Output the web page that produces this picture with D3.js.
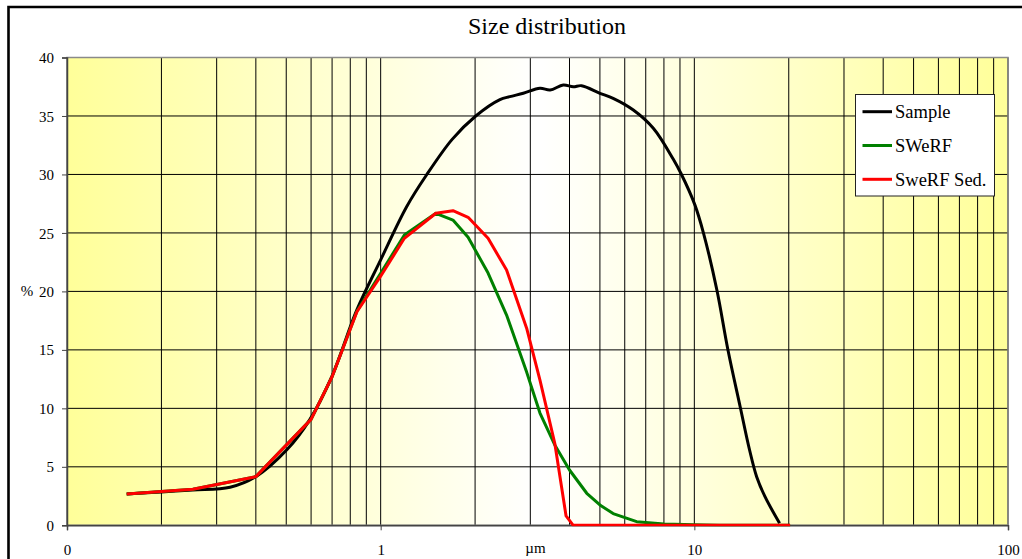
<!DOCTYPE html>
<html>
<head>
<meta charset="utf-8">
<script src="https://cdn.jsdelivr.net/npm/d3@7"></script>
<style>
  html, body { margin: 0; padding: 0; background: #ffffff; }
  svg { display: block; font-family: "Liberation Serif", "Times New Roman", serif; }
</style>
</head>
<body>
<svg id="chart" width="1022" height="559"></svg>
<script>
// Particle sizes (µm) and frequency (%) for each series
const sampleSize = [0.155, 0.2, 0.252, 0.331, 0.4, 0.503, 0.595, 0.698, 0.839, 1.0, 1.21, 1.40, 1.69, 2.01, 2.40, 2.58, 2.85, 3.22, 3.47, 3.82, 4.11, 4.37, 5.0, 5.51, 6.39, 7.40, 8.57, 9.06, 10.04, 10.7, 11.8, 12.8, 14.0, 15.0, 15.8, 16.8, 18.7];
const sampleValues = [2.68, 2.85, 3.02, 3.25, 4.16, 6.48, 9.06, 12.7, 18.4, 22.7, 27.24, 29.95, 33.0, 35.0, 36.4, 36.65, 36.94, 37.37, 37.22, 37.65, 37.5, 37.59, 36.94, 36.51, 35.51, 33.95, 31.3, 30.1, 27.4, 24.97, 20.12, 14.99, 10.14, 6.44, 4.16, 2.45, 0.17];

const swerfSize = [0.155, 0.252, 0.4, 0.6, 0.7, 0.84, 1.0, 1.19, 1.5, 1.7, 1.9, 2.2, 2.52, 2.92, 3.22, 3.59, 4.0, 4.54, 5.0, 5.51, 6.55, 8.0, 10, 12, 15, 20.2];
const swerfValues = [2.68, 3.08, 4.16, 9.06, 12.7, 18.3, 21.55, 24.82, 26.68, 26.1, 24.63, 21.57, 17.98, 13.1, 9.6, 6.87, 4.73, 2.74, 1.74, 1.0, 0.31, 0.12, 0.04, 0, 0, 0];

const sedSize = [0.155, 0.252, 0.4, 0.6, 0.7, 0.84, 1.0, 1.19, 1.5, 1.7, 1.9, 2.2, 2.52, 2.92, 3.22, 3.59, 3.9, 4.11, 5.0, 6.55, 8.0, 10, 12, 15, 20.2];
const sedValues = [2.68, 3.08, 4.16, 9.06, 12.7, 18.26, 21.3, 24.54, 26.68, 26.9, 26.34, 24.54, 21.83, 16.85, 12.42, 7.01, 0.8, 0, 0, 0, 0, 0, 0, 0, 0];

const seriesNames = ["Sample", "SWeRF", "SweRF Sed."];
const seriesColors = ["#000000", "#008000", "#ff0000"];

const xTickValues = [0.1, 1, 10, 100];
const xTickLabels = ["0", "1", "10", "100"];
const yTickValues = [0, 5, 10, 15, 20, 25, 30, 35, 40];

const titleText = "Size distribution";
const xTitle = "µm";
const yTitle = "%";

const serif = "'Liberation Serif', 'Times New Roman', serif";
const svg = d3.select("#chart");
const W = 1022, H = 559;
const plot = { left: 67, right: 1008, top: 57.5, bottom: 525.3 };

const x = d3.scaleLog().domain([0.1, 100]).range([plot.left, plot.right]);
const y = d3.scaleLinear().domain([0, 40]).range([plot.bottom, plot.top]);

// Chart frame
svg.append("rect").attr("x", 0).attr("y", 0).attr("width", W).attr("height", H).attr("fill", "#fff");
svg.append("path")
  .attr("d", `M8.5,${H + 5} L8.5,7 L${W + 5},7`)
  .attr("fill", "none").attr("stroke", "#000").attr("stroke-width", 2.6);

// Plot background: yellow at both edges, white in the middle
const defs = svg.append("defs");
const grad = defs.append("linearGradient").attr("id", "bg").attr("x1", 0).attr("x2", 1).attr("y1", 0).attr("y2", 0);
grad.append("stop").attr("offset", "0%").attr("stop-color", "#ffff99");
grad.append("stop").attr("offset", "50%").attr("stop-color", "#ffffff");
grad.append("stop").attr("offset", "100%").attr("stop-color", "#ffff99");

svg.append("rect")
  .attr("x", plot.left).attr("y", plot.top)
  .attr("width", plot.right - plot.left).attr("height", plot.bottom - plot.top)
  .attr("fill", "url(#bg)");

// Gridlines
const grid = svg.append("g").attr("stroke", "#000").attr("stroke-width", 1);
grid.selectAll("line.v").data(x.ticks()).join("line")
  .attr("x1", d => x(d)).attr("x2", d => x(d))
  .attr("y1", plot.top).attr("y2", plot.bottom);
grid.selectAll("line.h").data(yTickValues).join("line")
  .attr("x1", plot.left).attr("x2", plot.right)
  .attr("y1", d => y(d)).attr("y2", d => y(d));

// Plot border
svg.append("rect")
  .attr("x", plot.left).attr("y", plot.top)
  .attr("width", plot.right - plot.left).attr("height", plot.bottom - plot.top)
  .attr("fill", "none").attr("stroke", "#8a8a8a").attr("stroke-width", 1.5);

// Axes
const yAxis = svg.append("g")
  .attr("transform", `translate(${plot.left},0)`)
  .call(d3.axisLeft(y).tickValues(yTickValues).tickSize(5).tickPadding(8).tickFormat(d3.format("d")));
const xAxis = svg.append("g")
  .attr("transform", `translate(0,${plot.bottom})`)
  .call(d3.axisBottom(x).tickValues(xTickValues).tickSize(5).tickPadding(14)
    .tickFormat((d, i) => xTickLabels[i]));
[yAxis, xAxis].forEach(a => {
  a.attr("font-family", serif).attr("font-size", 15);
  a.select(".domain").attr("stroke", "#444").attr("stroke-width", 1.5);
  a.selectAll(".tick line").attr("stroke", "#444");
  a.selectAll("text").attr("fill", "#000");
});
yAxis.selectAll(".tick text").attr("dy", "0.34em");

// Axis titles and chart title
svg.append("text").attr("x", 27).attr("y", (plot.top + plot.bottom) / 2 + 5)
  .attr("text-anchor", "middle").attr("font-family", serif).attr("font-size", 15).text(yTitle);
svg.append("text").attr("x", (plot.left + plot.right) / 2 - 2).attr("y", 553)
  .attr("text-anchor", "middle").attr("font-family", serif).attr("font-size", 15).text(xTitle);
svg.append("text").attr("x", 547).attr("y", 34)
  .attr("text-anchor", "middle").attr("font-family", serif).attr("font-size", 24).text(titleText);

// Series lines
const clip = defs.append("clipPath").attr("id", "plotclip");
clip.append("rect").attr("x", plot.left).attr("y", plot.top - 5)
  .attr("width", plot.right - plot.left).attr("height", plot.bottom - plot.top + 6);

const series = [
  { sizes: sampleSize, values: sampleValues, curve: d3.curveCatmullRom.alpha(0.5) },
  { sizes: swerfSize, values: swerfValues, curve: d3.curveLinear },
  { sizes: sedSize, values: sedValues, curve: d3.curveLinear }
];
const lines = svg.append("g").attr("clip-path", "url(#plotclip)");
series.forEach((s, i) => {
  const pts = s.sizes.map((d, j) => [d, s.values[j]]);
  const line = d3.line().x(p => x(p[0])).y(p => y(p[1])).curve(s.curve);
  lines.append("path").attr("d", line(pts))
    .attr("fill", "none").attr("stroke", seriesColors[i])
    .attr("stroke-width", 3).attr("stroke-linejoin", "round");
});

// Legend
const lg = svg.append("g").attr("font-family", serif);
lg.append("rect").attr("x", 855.5).attr("y", 94.5).attr("width", 139).attr("height", 101.5)
  .attr("fill", "#fff").attr("stroke", "#222").attr("stroke-width", 1);
seriesNames.forEach((name, i) => {
  const ly = 111.7 + i * 33.8;
  lg.append("line").attr("x1", 862.5).attr("x2", 892).attr("y1", ly).attr("y2", ly)
    .attr("stroke", seriesColors[i]).attr("stroke-width", 3);
  lg.append("text").attr("x", 895).attr("y", ly + 6.5)
    .attr("font-size", 18.5).text(name);
});
</script>
</body>
</html>
